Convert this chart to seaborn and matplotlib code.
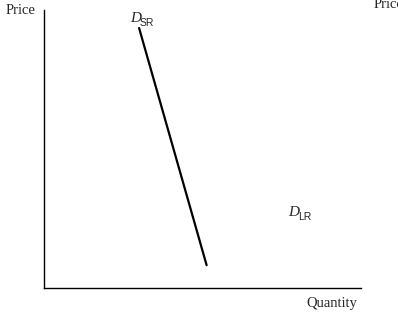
import matplotlib
matplotlib.use("Agg")
import matplotlib.pyplot as plt
import seaborn as sns
import pandas as pd

# Data: short-run demand curve endpoints (quantity, price)
dsr_quantity = [3.0, 5.13]
dsr_price = [9.35, 0.82]
x_label = "Quantity"
y_label = "Price"

sns.set_style("white")
plt.rcParams['font.family'] = ['Liberation Serif', 'DejaVu Serif']

fig = plt.figure(figsize=(3.98, 3.13), dpi=100)
ax = fig.add_axes([44/398, 1-288/313, (361-44)/398, (288-10)/313])

df = pd.DataFrame({"q": dsr_quantity, "p": dsr_price})
sns.lineplot(data=df, x="q", y="p", ax=ax, color="black", linewidth=1.6, sort=False)

ax.set_xlim(0, 10)
ax.set_ylim(0, 10)
ax.set_xticks([])
ax.set_yticks([])
ax.set_xlabel("")
ax.set_ylabel("")
for s in ["top", "right"]:
    ax.spines[s].set_visible(False)
for s in ["left", "bottom"]:
    ax.spines[s].set_color("black")
    ax.spines[s].set_linewidth(1.0)

fig.text(6/398, 1-10/313, y_label, fontsize=10.5, va="center", ha="left")
fig.text(357/398, 1-303/313, x_label, fontsize=10.5, va="center", ha="right")
fig.text(130/398, 1-19/313, "D", fontsize=11, va="center", ha="left", style="italic")
fig.text(140/398, 1-23/313, "SR", fontsize=7.5, va="center", ha="left",
         family=['Liberation Sans', 'DejaVu Sans'])
fig.text(288/398, 1-213/313, "D", fontsize=11, va="center", ha="left", style="italic")
fig.text(298/398, 1-217/313, "LR", fontsize=7.5, va="center", ha="left",
         family=['Liberation Sans', 'DejaVu Sans'])
fig.text(374/398, 1-5/313, "Price", fontsize=10.5, va="center", ha="left")

fig.savefig("out.png", dpi=100)
